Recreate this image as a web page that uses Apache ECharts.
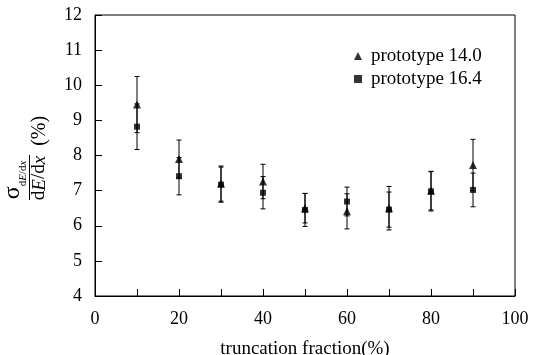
<!DOCTYPE html>
<html>
<head>
<meta charset="utf-8">
<script src="https://cdn.jsdelivr.net/npm/echarts@6/dist/echarts.min.js"></script>
<style>html,body{margin:0;padding:0;background:#fff;}#c{width:533px;height:355px;}</style>
</head>
<body>
<div id="c"></div>
<script>
var fractions = [10, 20, 30, 40, 50, 60, 70, 80, 90];
var proto140 = [9.45, 7.90, 7.20, 7.26, 6.50, 6.41, 6.50, 7.00, 7.73];
var proto140Err = [0.80, 0.54, 0.50, 0.49, 0.42, 0.50, 0.62, 0.55, 0.73];
var proto164 = [8.82, 7.41, 7.17, 6.94, 6.45, 6.69, 6.46, 6.98, 7.02];
var proto164Err = [0.65, 0.53, 0.50, 0.46, 0.47, 0.41, 0.50, 0.56, 0.48];
var seriesNames = ['prototype 14.0', 'prototype 16.4'];

var FONT = 'Liberation Serif';
function pts(vals) { return fractions.map(function (x, i) { return [x, vals[i]]; }); }
function errs(vals, e) { return fractions.map(function (x, i) { return [x, vals[i], e[i]]; }); }
function errRender(params, api) {
  var x = api.value(0), v = api.value(1), e = api.value(2);
  var top = api.coord([x, v + e]);
  var bot = api.coord([x, v - e]);
  var st = { stroke: '#000', lineWidth: 1 };
  var w = 2.5;
  return {
    type: 'group',
    children: [
      { type: 'line', shape: { x1: top[0], y1: top[1], x2: bot[0], y2: bot[1] }, style: st },
      { type: 'line', shape: { x1: top[0] - w, y1: top[1], x2: top[0] + w, y2: top[1] }, style: st },
      { type: 'line', shape: { x1: bot[0] - w, y1: bot[1], x2: bot[0] + w, y2: bot[1] }, style: st }
    ]
  };
}

var yName = '{sg|σ}{sr|d}{si|E}{sr|/d}{si|x}{p1| }\n{bar| }{p2| }\n{dr|d}{di|E}{dr|/d}{di|x}{gap| }{pct|(%)}';
var yRich = {
  sg: { fontFamily: FONT, fontSize: 24, lineHeight: 24, padding: [0, 0, 4, 0], verticalAlign: 'bottom', color: '#000' },
  sr: { fontFamily: FONT, fontSize: 11, lineHeight: 11, verticalAlign: 'bottom', color: '#000' },
  si: { fontFamily: FONT, fontSize: 11, lineHeight: 11, verticalAlign: 'bottom', fontStyle: 'italic', color: '#000' },
  p1: { width: 44, fontSize: 1, lineHeight: 1 },
  bar: { width: 45, height: 1, lineHeight: 1, fontSize: 1, backgroundColor: '#000' },
  p2: { width: 39, height: 1, lineHeight: 1, fontSize: 1 },
  dr: { fontFamily: FONT, fontSize: 19, lineHeight: 19, color: '#000' },
  di: { fontFamily: FONT, fontSize: 19, lineHeight: 19, fontStyle: 'italic', color: '#000' },
  gap: { width: 10, fontSize: 1, lineHeight: 19 },
  pct: { fontFamily: FONT, fontSize: 20, lineHeight: 19, color: '#000' }
};

var chart = echarts.init(document.getElementById('c'), null, { renderer: 'canvas' });
chart.setOption({
  animation: false,
  backgroundColor: '#fff',
  textStyle: { fontFamily: FONT, color: '#000' },
  grid: { left: 95, right: 18, top: 15, bottom: 59, outerBoundsMode: 'none', containLabel: false,
          show: true, borderColor: '#000', borderWidth: 1, backgroundColor: 'transparent' },
  legend: {
    orient: 'vertical', left: 349, top: 41, itemGap: 3,
    itemWidth: 8, itemHeight: 8,
    data: [{ name: seriesNames[0], icon: 'triangle' }, { name: seriesNames[1], icon: 'rect' }],
    textStyle: { fontFamily: FONT, fontSize: 19, color: '#000', padding: [0, 0, 0, 4], lineHeight: 20 }
  },
  xAxis: {
    type: 'value', min: 0, max: 100, interval: 10,
    name: 'truncation fraction(%)', nameLocation: 'middle', nameGap: 44,
    nameTextStyle: { fontFamily: FONT, fontSize: 19, color: '#000' },
    axisLine: { lineStyle: { color: '#000', width: 1 } },
    axisTick: { inside: true, length: 7, lineStyle: { color: '#000' } },
    axisLabel: { fontFamily: FONT, fontSize: 18, color: '#000', margin: 14,
      formatter: function (v) { return v % 20 === 0 ? String(v) : ''; } },
    splitLine: { show: false }
  },
  yAxis: {
    type: 'value', min: 4, max: 12, interval: 1,
    name: yName, nameLocation: 'middle', nameRotate: 90, nameGap: 46,
    nameTextStyle: { rich: yRich, padding: [0, 5, 0, 0] },
    axisLine: { show: true, lineStyle: { color: '#000', width: 1 } },
    axisTick: { show: true, inside: true, length: 7, lineStyle: { color: '#000' } },
    axisLabel: { fontFamily: FONT, fontSize: 18, color: '#000', margin: 13 },
    splitLine: { show: false }
  },
  series: [
    { type: 'custom', name: seriesNames[0] + ' err', renderItem: errRender, data: errs(proto140, proto140Err), z: 1, silent: true },
    { type: 'custom', name: seriesNames[1] + ' err', renderItem: errRender, data: errs(proto164, proto164Err), z: 1, silent: true },
    { type: 'scatter', name: seriesNames[0], symbol: 'triangle', symbolSize: 8, itemStyle: { color: '#000' }, data: pts(proto140), z: 3 },
    { type: 'scatter', name: seriesNames[1], symbol: 'rect', symbolSize: 6, itemStyle: { color: '#000' }, data: pts(proto164), z: 4 }
  ]
});
</script>
</body>
</html>
